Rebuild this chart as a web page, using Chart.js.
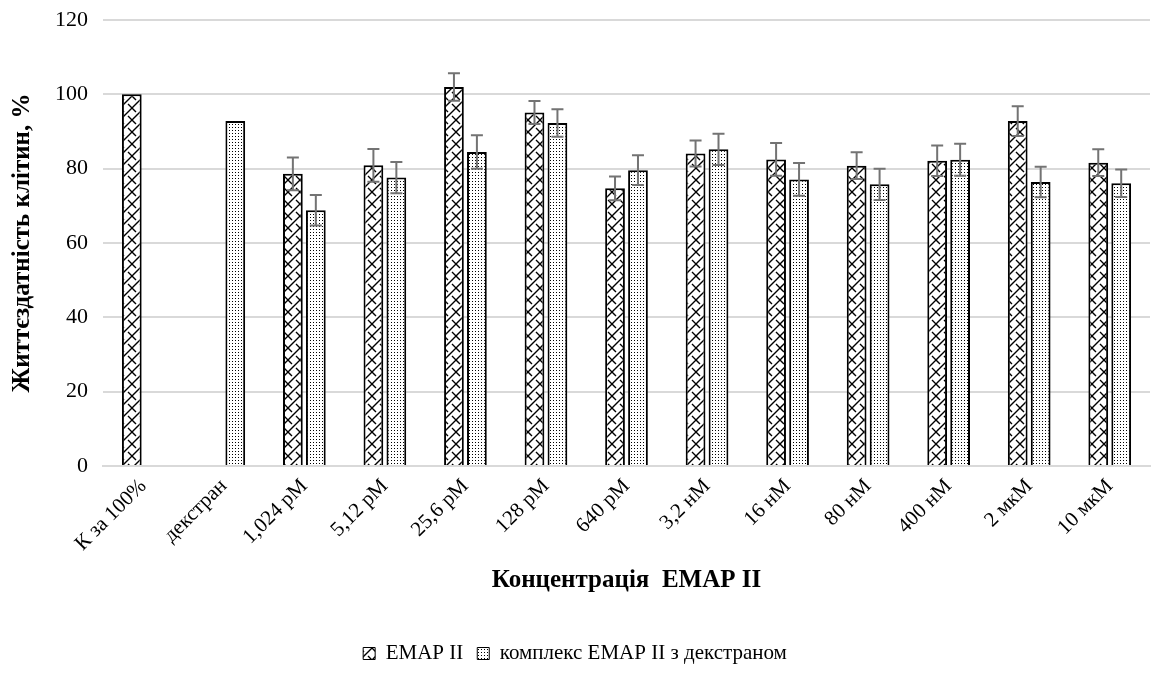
<!DOCTYPE html>
<html>
<head>
<meta charset="utf-8">
<script src="https://cdn.jsdelivr.net/npm/chart.js@4.4.1/dist/chart.umd.min.js"></script>
<style>
  html, body { margin: 0; padding: 0; background: #ffffff; }
  #wrap { width: 1156px; height: 695px; position: relative; }
</style>
</head>
<body>
<div id="wrap"><canvas id="c" width="1156" height="695"></canvas></div>
<script>
const categories = ["К за 100%", "декстран", "1,024 pM", "5,12 pM", "25,6 pM", "128 pM", "640 pM", "3,2 нМ", "16 нМ", "80 нМ", "400 нМ", "2 мкМ", "10 мкМ"];
const emapValues = [100, null, 78.6, 80.9, 102.0, 95.1, 74.7, 84.1, 82.5, 80.8, 82.1, 92.8, 81.6];
const emapErrors = [null, null, 4.4, 4.4, 3.7, 3.1, 3.2, 3.5, 4.4, 3.6, 4.1, 4.0, 3.6];
const complexValues = [null, 92.8, 68.8, 77.6, 84.5, 92.3, 79.6, 85.2, 77.1, 75.8, 82.4, 76.4, 76.1];
const complexErrors = [null, null, 4.1, 4.2, 4.5, 3.7, 4.0, 4.2, 4.4, 4.2, 4.3, 4.1, 3.7];
const seriesNames = ["EMAP II", "комплекс EMAP II з декстраном"];
const yTicks = [0, 20, 40, 60, 80, 100, 120];

function zigzagPattern() {
  const n = 12;
  const t = document.createElement('canvas');
  t.width = n; t.height = n;
  const g = t.getContext('2d');
  g.fillStyle = '#ffffff'; g.fillRect(0, 0, n, n);
  g.strokeStyle = '#000000'; g.lineWidth = 1.4;
  g.beginPath();
  g.moveTo(-1, n + 1); g.lineTo(n + 1, -1);
  g.moveTo(0, 0); g.lineTo(4, 4);
  g.moveTo(8, 8); g.lineTo(n, n);
  g.stroke();
  return g.createPattern(t, 'repeat');
}
function dotPattern() {
  const t = document.createElement('canvas');
  t.width = 3; t.height = 3;
  const g = t.getContext('2d');
  g.fillStyle = '#ffffff'; g.fillRect(0, 0, 3, 3);
  g.fillStyle = '#000000'; g.fillRect(1, 1, 1, 1);
  return g.createPattern(t, 'repeat');
}

const errorBarPlugin = {
  id: 'errorBars',
  afterDatasetsDraw(chart) {
    const ctx = chart.ctx;
    const ys = chart.scales.y;
    chart.data.datasets.forEach((ds, i) => {
      const meta = chart.getDatasetMeta(i);
      meta.data.forEach((el, j) => {
        const v = ds.data[j], e = ds.errors[j];
        if (v == null || e == null) return;
        const yt = ys.getPixelForValue(v + e);
        const yb = ys.getPixelForValue(v - e);
        ctx.save();
        ctx.strokeStyle = '#737373';
        ctx.lineWidth = 2;
        ctx.beginPath();
        ctx.moveTo(el.x, yt); ctx.lineTo(el.x, yb);
        ctx.moveTo(el.x - 6, yt); ctx.lineTo(el.x + 6, yt);
        ctx.moveTo(el.x - 6, yb); ctx.lineTo(el.x + 6, yb);
        ctx.stroke();
        ctx.restore();
      });
    });
  }
};

const serif = "'Liberation Serif', 'Times New Roman', serif";

new Chart(document.getElementById('c'), {
  type: 'bar',
  data: {
    labels: categories,
    datasets: [
      { label: seriesNames[0], data: emapValues, errors: emapErrors, backgroundColor: zigzagPattern(), borderColor: '#000000', borderWidth: 2, categoryPercentage: 0.57, barPercentage: 0.86 },
      { label: seriesNames[1], data: complexValues, errors: complexErrors, backgroundColor: dotPattern(), borderColor: '#000000', borderWidth: 2, categoryPercentage: 0.57, barPercentage: 0.86 }
    ]
  },
  options: {
    responsive: false,
    animation: false,
    layout: { padding: { top: 20, right: 6, bottom: 21, left: 0 } },
    plugins: {
      legend: {
        position: 'bottom',
        labels: {
          font: { family: serif, size: 21 },
          color: '#000000',
          boxWidth: 12, boxHeight: 12,
          padding: 14,
          generateLabels(chart) {
            return chart.data.datasets.map((ds, i) => ({
              text: ds.label, fillStyle: ds.backgroundColor, strokeStyle: '#000000', lineWidth: 1, datasetIndex: i, fontColor: '#000000'
            }));
          }
        }
      },
      tooltip: { enabled: false }
    },
    scales: {
      x: {
        grid: { display: false, drawTicks: false },
        border: { display: true, color: '#d9d9d9', width: 2 },
        ticks: { font: { family: serif, size: 21 }, color: '#000000', minRotation: 45, maxRotation: 45, padding: 8 },
        title: { display: true, text: 'Концентрація  EMAP II', font: { family: serif, size: 25, weight: 'bold' }, color: '#000000', padding: { top: 20, bottom: 33 } },
        afterFit(s) { s.height = 163; }
      },
      y: {
        min: 0, max: 120,
        afterBuildTicks(s) { s.ticks = yTicks.map(v => ({ value: v })); },
        grid: { color: '#d9d9d9', lineWidth: 2, drawTicks: false },
        border: { display: false },
        ticks: { font: { family: serif, size: 22 }, color: '#000000', padding: 15 },
        title: { display: true, text: 'Життєздатність клітин, %', font: { family: serif, size: 25, weight: 'bold' }, color: '#000000', padding: { top: 8, bottom: 0 } },
        afterFit(s) { s.width = 103; s.paddingTop = 0; s.paddingBottom = 0; }
      }
    }
  },
  plugins: [errorBarPlugin]
});
</script>
</body>
</html>
